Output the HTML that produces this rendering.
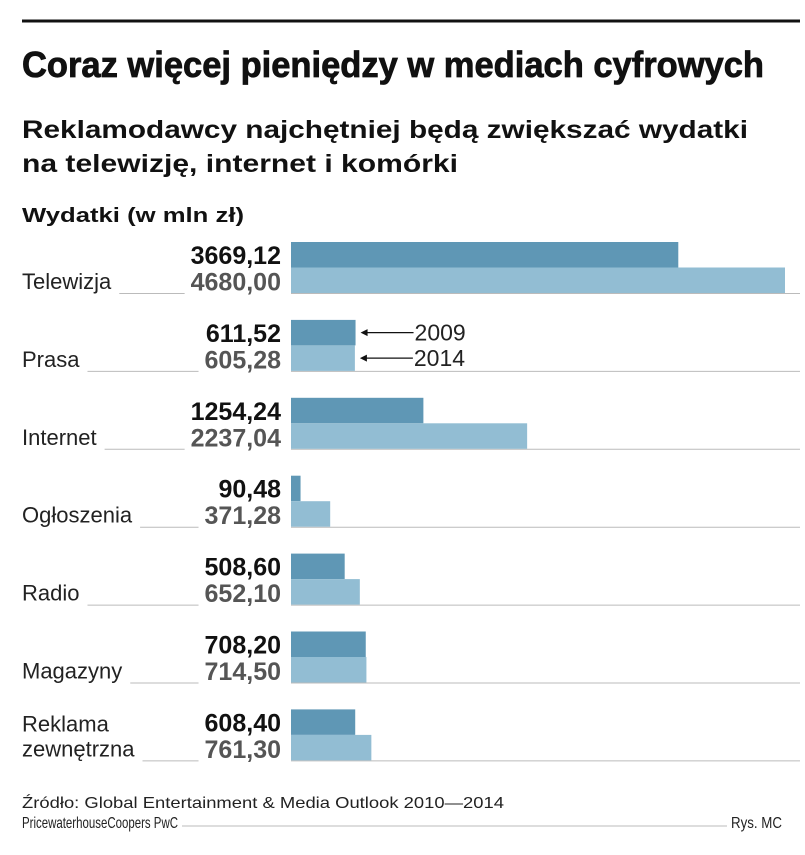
<!DOCTYPE html>
<html><head><meta charset="utf-8"><style>
body{margin:0;background:#fff;}
svg text{font-family:"Liberation Sans",sans-serif;}
</style></head><body>
<svg width="805" height="850" xmlns="http://www.w3.org/2000/svg">
<rect width="805" height="850" fill="#fff"/>
<line x1="22" y1="21" x2="800" y2="21" stroke="#111" stroke-width="3"/>
<text x="22" y="77" font-size="36" font-weight="bold" fill="#111" stroke="#111" stroke-width="0.8" textLength="742" lengthAdjust="spacingAndGlyphs">Coraz więcej pieniędzy w mediach cyfrowych</text>
<text x="22" y="138" font-size="25" font-weight="bold" fill="#111" textLength="726" lengthAdjust="spacingAndGlyphs">Reklamodawcy najchętniej będą zwiększać wydatki</text>
<text x="22" y="172" font-size="25" font-weight="bold" fill="#111" textLength="436" lengthAdjust="spacingAndGlyphs">na telewizję, internet i komórki</text>
<text x="22" y="222" font-size="20" font-weight="bold" fill="#111" textLength="222" lengthAdjust="spacingAndGlyphs">Wydatki (w mln zł)</text>
<g id="bars"></g>
<text x="22" y="808" font-size="16" fill="#222" textLength="482" lengthAdjust="spacingAndGlyphs">Źródło: Global Entertainment &amp; Media Outlook 2010—2014</text>
<text x="22" y="828" font-size="16" fill="#222" textLength="156" lengthAdjust="spacingAndGlyphs">PricewaterhouseCoopers PwC</text>
<line x1="182" y1="826" x2="727" y2="826" stroke="#bbb" stroke-width="1"/>
<text x="782" y="828" font-size="16" fill="#222" text-anchor="end" textLength="51" lengthAdjust="spacingAndGlyphs">Rys. MC</text>
</svg>
<script>
const categories=["Telewizja","Prasa","Internet","Ogłoszenia","Radio","Magazyny","Reklama|zewnętrzna"];
const values2009=[3669.12,611.52,1254.24,90.48,508.60,708.20,608.40];
const values2014=[4680.00,605.28,2237.04,371.28,652.10,714.50,761.30];
const maxValue=4680;
const NS="http://www.w3.org/2000/svg";
const g=document.getElementById('bars');
const x0=291,xMaxPx=785,rowTop=242,step=77.9,barH=25.5;
function xScale(v){return (v/maxValue)*(xMaxPx-x0);}
function fmt(v){return v.toFixed(2).replace('.',',');}
function mk(tag,attrs){const e=document.createElementNS(NS,tag);for(const k in attrs)e.setAttribute(k,attrs[k]);g.appendChild(e);return e;}
categories.forEach((c,i)=>{
  const y=rowTop+i*step;
  const base=y+2*barH;
  const ln=mk('line',{x1:22,y1:base+0.5,x2:800,y2:base+0.5,stroke:'#bbb','stroke-width':1});
  
  
  const bg=mk('rect',{x:20,y:base-24,width:10,height:26,fill:'#fff'});
  
  
  const vb=mk('rect',{x:200,y:base-24,width:91,height:26,fill:'#fff'});
  
  
  const lines=c.split('|');
  let maxW=0;
  lines.forEach((t,j)=>{
    const tx=mk('text',{x:22,y:base-4-(lines.length-1-j)*25,'font-size':22,fill:'#222'});
    tx.textContent=t;
    
    
    maxW=Math.max(maxW,tx.getComputedTextLength());
  });
  bg.setAttribute('width',maxW+10);
  const b1=mk('rect',{x:x0,y:y,width:xScale(values2009[i]),height:barH,fill:'#5f97b5'});
  
  
  const b2=mk('rect',{x:x0,y:y+barH,width:xScale(values2014[i]),height:barH,fill:'#92bdd3'});
  
  
  const v1=mk('text',{x:281,y:y+22,'font-size':25,'font-weight':'bold',fill:'#111','text-anchor':'end'});
  v1.textContent=fmt(values2009[i]);
  
  
  const v2=mk('text',{x:281,y:y+barH+23,'font-size':25,'font-weight':'bold',fill:'#555','text-anchor':'end'});
  v2.textContent=fmt(values2014[i]);
  
  
  const vw=v2.getComputedTextLength();
  vb.setAttribute('x',281-vw-6);
  vb.setAttribute('width',vw+16);
  if(i===1){
    [[values2009[i],y+barH/2,'2009'],[values2014[i],y+barH*1.5,'2014']].forEach(([v,ay,t])=>{
      const ax=x0+xScale(v)+5;
      const wb=mk('rect',{x:ax,y:ay-12,width:120,height:24,fill:'#fff'});
      
      
      const l=mk('line',{x1:ax+2,y1:ay,x2:ax+53,y2:ay,stroke:'#111','stroke-width':1.3});
      
      
      const p=mk('path',{d:`M${ax} ${ay} l7 -3.5 l0 7 z`,fill:'#111'});
      
      
      const tt=mk('text',{x:ax+54,y:ay+8,'font-size':23,fill:'#222'});
      tt.textContent=t;
      
      
    });
  }
});
</script>
</body></html>
